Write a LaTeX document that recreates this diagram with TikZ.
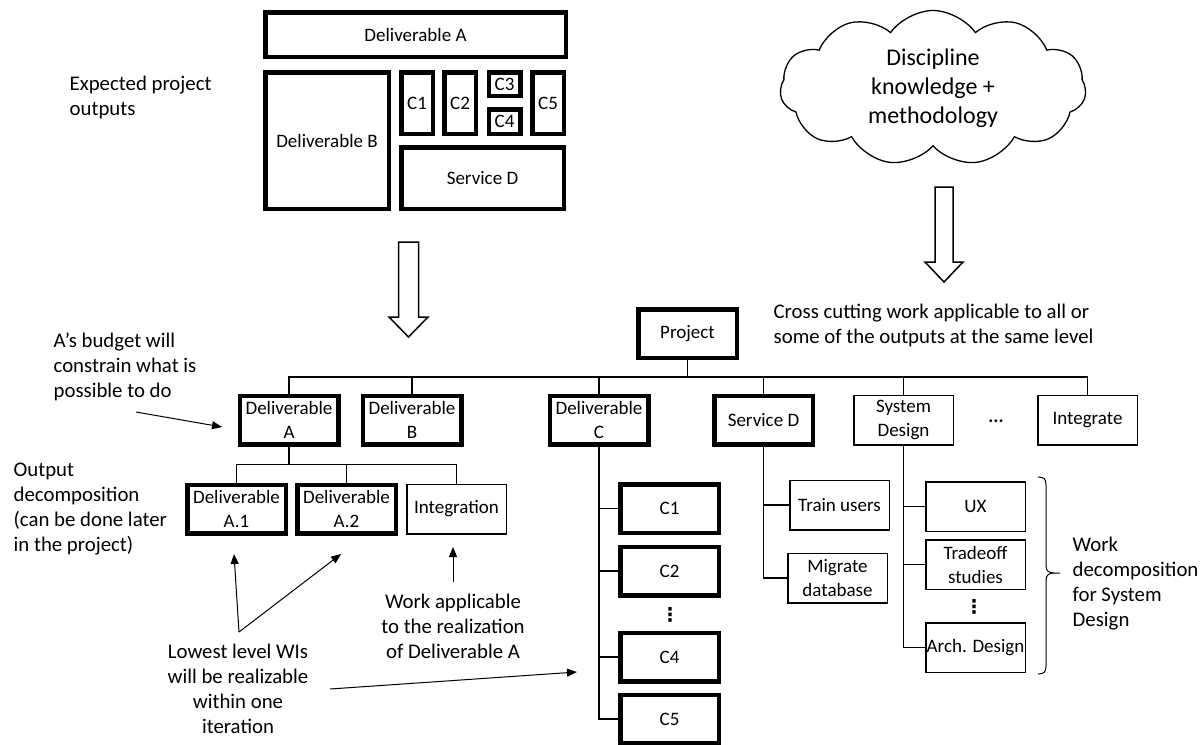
\documentclass[tikz,border=0pt]{standalone}
\usepackage{fontspec}
\setmainfont{Carlito}
\newfontfamily\dotsfont{DejaVu Sans}
\usepackage{tikz}
\usetikzlibrary{arrows.meta}
\usetikzlibrary{shapes.symbols}
\tikzset{>={Triangle[length=10pt,width=8pt]}}
\newcommand{\wbsfont}{\fontsize{19}{24}\selectfont}
\newcommand{\annfont}{\fontsize{20.8}{25}\selectfont}
\newcommand{\cloudfont}{\fontsize{24}{29}\selectfont}
\tikzstyle{outbox} = [draw, line width=4.5pt, inner sep=0pt, align=center, font=\wbsfont]
\tikzstyle{wi} = [draw, line width=4.5pt, minimum width=98.5pt, minimum height=48.5pt,
    inner sep=0pt, align=center, font=\wbsfont]
\tikzstyle{work} = [draw, line width=1.5pt, minimum width=99.5pt, minimum height=49.5pt,
    inner sep=0pt, align=center, font=\wbsfont]
\tikzstyle{note} = [inner sep=0pt, font=\annfont]
\tikzstyle{vdot} = [inner sep=0pt, font=\dotsfont\bfseries\fontsize{19}{19}\selectfont]
\tikzstyle{block} = [draw, line width=1.5pt, fill=white, line join=miter]

\begin{document}
\begin{tikzpicture}[x=1pt, y=-1pt, line width=1.3pt]
\useasboundingbox (0,0) rectangle (1201,744);
    %expected outputs
    \node[note, align=left, anchor=west] (expTxt) at (69,97) {Expected project\\outputs};
    \node[outbox, minimum width=300.5pt, minimum height=44.5pt] (topA) at (415.5,34.5) {Deliverable A};
    \node[outbox, minimum width=123.5pt, minimum height=136.5pt] (topB) at (327,140.5) {Deliverable B};
    \node[outbox, minimum width=31.5pt, minimum height=61.5pt] (topC1) at (417,103) {C1};
    \node[outbox, minimum width=31.5pt, minimum height=61.5pt] (topC2) at (460,103) {C2};
    \node[outbox, minimum width=31.5pt, minimum height=23.5pt] (topC3) at (504.5,84) {C3};
    \node[outbox, minimum width=31.5pt, minimum height=24.5pt] (topC4) at (504.5,121.5) {C4};
    \node[outbox, minimum width=31.5pt, minimum height=61.5pt] (topC5) at (548,103) {C5};
    \node[outbox, minimum width=162.5pt, minimum height=61.5pt] (topD) at (482.5,178) {Service D};
    %cloud
    \node[cloud, draw, cloud puffs=11, cloud puff arc=110, aspect=2,
          minimum width=306pt, minimum height=155pt, inner sep=0pt,
          align=center, font=\cloudfont] (know) at (933,88) {Discipline\\knowledge +\\methodology};
    %block arrows
    \draw[block] (398.5,242) -- (418.5,242) -- (418.5,317) -- (428,317) -- (408.5,337)
        -- (389,317) -- (398.5,317) -- cycle;
    \draw[block] (935,187) -- (953,187) -- (953,262) -- (963,262) -- (944,282)
        -- (925,262) -- (935,262) -- cycle;
    %tree
    \node[wi] (proj) at (687.5,333.5) {Project};
    \node[note, align=left, anchor=west] (cross) at (773,325)
        {Cross cutting work applicable to all or\\some of the outputs at the same level};
    \node[wi] (delA) at (289,420) {Deliverable\\A};
    \node[wi] (delB) at (412,420) {Deliverable\\B};
    \node[wi] (delC) at (599,420) {Deliverable\\C};
    \node[wi] (serD) at (763.5,420) {Service D};
    \node[work] (sysD) at (903.5,420) {System\\Design};
    \node[note, font=\wbsfont\bfseries] (more) at (996,421) {...};
    \node[work] (integ) at (1087.5,420) {Integrate};
    \foreach \n in {delA,delB,delC,serD,sysD,integ}
        \draw (proj.south) -- ++(0,17) -| (\n.north);
    % output decomposition
    \node[wi] (delA1) at (236.5,509) {Deliverable\\A.1};
    \node[wi] (delA2) at (346.5,509) {Deliverable\\A.2};
    \node[work] (integA) at (456.5,509) {Integration};
    \foreach \n in {delA1,delA2,integA}
        \draw (delA.south) -- ++(0,18) -| (\n.north);
    \node[wi] (c1) at (669.5,508.5) {C1};
    \node[wi] (c2) at (669.5,571) {C2};
    \node[vdot] (cdots) at (670,615) {⋮};
    \node[wi] (c4) at (669.5,657) {C4};
    \node[wi] (c5) at (669.5,719) {C5};
    \foreach \n in {c1,c2,c4,c5}
        \draw (delC.south) |- (\n.west);
    \node[work] (train) at (839.5,505) {Train users};
    \node[work] (migr) at (837.5,578) {Migrate\\database};
    \foreach \n in {train,migr}
        \draw (serD.south) |- (\n.west);
    % work decomposition
    \node[work] (ux) at (975.5,506.5) {UX};
    \node[work] (trade) at (975.5,564.5) {Tradeoff\\studies};
    \node[vdot] (sdots) at (974,607) {⋮};
    \node[work] (arch) at (975.5,647.5) {Arch. Design};
    \foreach \n in {ux,trade,arch}
        \draw (sysD.south) |- (\n.west);
    \draw[line width=1pt] (1038,477) .. controls (1044,477) and (1046,479) .. (1046,485) -- (1046,566)
        .. controls (1046,571) and (1049,573) .. (1054,573) -- (1060,573);
    \draw[line width=1pt] (1038,674) .. controls (1044,674) and (1046,672) .. (1046,666) -- (1046,580)
        .. controls (1046,575) and (1049,573) .. (1054,573);
    \node[note, align=left, anchor=west] (sdWork) at (1072,584) {Work\\decomposition\\for System\\Design};
    %annotations
    \node[note, align=left, anchor=west] (budget) at (53,367) {A’s budget will\\constrain what is\\possible to do};
    \node[note, align=left, anchor=west] (outDec) at (13,509.5) {Output\\decomposition\\(can be done later\\in the project)};
    \node[note, align=center] (lowest) at (238,689) {Lowest level WIs\\will be realizable\\within one\\iteration};
    \node[note, align=center] (workApp) at (453,626) {Work applicable\\to the realization\\of Deliverable A};
    \coordinate (budgetTail) at (136,412);
    \coordinate (budgetTip) at (222,427);
    \coordinate (lowTail) at (239,632);
    \coordinate (lowTailC) at (330,689);
    \coordinate (a1Tip) at (234,554);
    \coordinate (a2Tip) at (341,554);
    \coordinate (c4Tip) at (577,672);
    \coordinate (appTail) at (453,582);
    \coordinate (appTip) at (453,547);
    \draw[->, line width=1pt] (budgetTail) -- (budgetTip);
    \draw[->, line width=1pt] (lowTail) -- (a1Tip);
    \draw[->, line width=1pt] (lowTail) -- (a2Tip);
    \draw[->, line width=1pt] (lowTailC) -- (c4Tip);
    \draw[->, line width=1pt] (appTail) -- (appTip);
\end{tikzpicture}
\end{document}
